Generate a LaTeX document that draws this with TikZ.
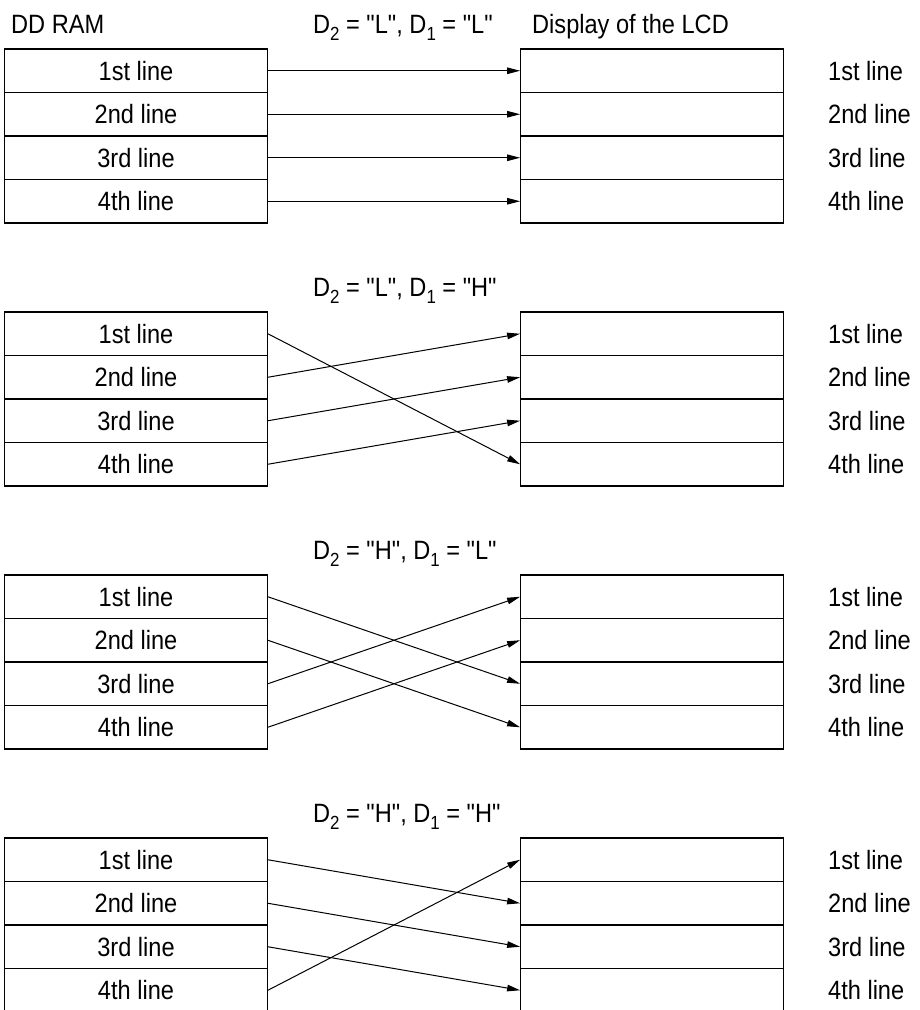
\documentclass[tikz,border=0pt]{standalone}
\usepackage{fontspec}
\newfontfamily\mainf{Liberation Sans}[FakeStretch=0.89]
\usetikzlibrary{arrows.meta}
\newcommand\dsub[1]{\raisebox{-0.3em}{\fontsize{19}{19}\selectfont #1}}
\begin{document}
\begin{tikzpicture}[x=1pt,y=-1pt,
  rowbox/.style={draw, line width=1.3pt, minimum width=262.5pt, minimum height=43.5pt, inner sep=0pt, font=\mainf\fontsize{26.5}{30}\selectfont},
  lbl/.style={anchor=west, inner sep=0pt, font=\mainf\fontsize{26.5}{30}\selectfont},
  ttl/.style={anchor=base west, inner sep=0pt, font=\mainf\fontsize{26.5}{30}\selectfont},
  conn/.style={line width=1pt, -{Triangle[length=13pt,width=6.5pt]}}]
\useasboundingbox (0,0) rectangle (920,1010);
\clip (0,0) rectangle (920,1010);
\node[ttl] (ddram) at (11,33) {DD RAM};
\node[ttl] (disp) at (532,33) {Display of the LCD};
\node[ttl] (t1) at (313,33) {D\dsub{2} = "L", D\dsub{1} = "L"};
\node[ttl] (t2) at (313,296) {D\dsub{2} = "L", D\dsub{1} = "H"};
\node[ttl] (t3) at (313,559) {D\dsub{2} = "H", D\dsub{1} = "L"};
\node[ttl] (t4) at (313,822) {D\dsub{2} = "H", D\dsub{1} = "H"};
\foreach \p/\a/\b/\c/\d in {1/1/2/3/4, 2/4/1/2/3, 3/3/4/1/2, 4/2/3/4/1} {
  \pgfmathsetmacro\ptop{49+(\p-1)*263}
  \foreach \r/\txt in {1/1st line,2/2nd line,3/3rd line,4/4th line}{
    \pgfmathsetmacro\yy{\ptop+(\r-0.5)*43.5}
    \node[rowbox] (l\p-\r) at (136,\yy) {\txt};
    \node[rowbox] (r\p-\r) at (652,\yy) {};
    \node[lbl] (n\p-\r) at (828,\yy) {\txt};
  }
  \draw[conn] (l\p-1.east) -- (r\p-\a.west);
  \draw[conn] (l\p-2.east) -- (r\p-\b.west);
  \draw[conn] (l\p-3.east) -- (r\p-\c.west);
  \draw[conn] (l\p-4.east) -- (r\p-\d.west);
}
\end{tikzpicture}
\end{document}
